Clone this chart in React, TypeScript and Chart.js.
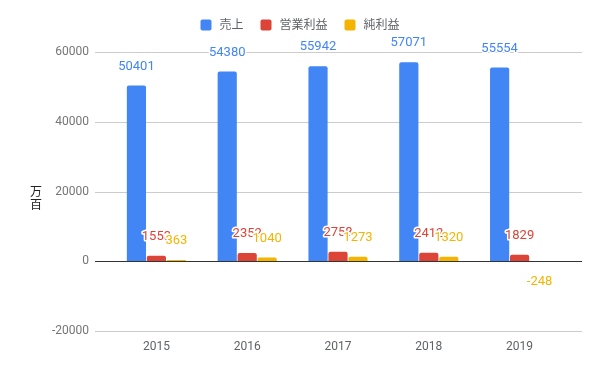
import React, { useEffect, useRef } from "react";
import { Chart, registerables } from "chart.js";

Chart.register(...registerables);

const years = ["2015", "2016", "2017", "2018", "2019"];
const sales = [50401, 54380, 55942, 57071, 55554];
const operatingProfit = [1553, 2352, 2758, 2412, 1829];
const netProfit = [363, 1040, 1273, 1320, -248];
const seriesNames = ["売上", "営業利益", "純利益"];
const seriesColors = ["#4285F4", "#DB4437", "#F4B400"];
const yMin = -20000;
const yMax = 60000;
const yStep = 20000;
const yAxisTitle = ["万", "百"];

const FONT = 'Roboto, "Noto Sans CJK JP", sans-serif';

// Horizontal grid lines, a bit wider than the bar area
const gridPlugin = {
  id: "wideGrid",
  beforeDatasetsDraw(chart: any) {
    const { ctx, chartArea } = chart;
    const y = chart.scales.y;
    ctx.save();
    ctx.strokeStyle = "#cccccc";
    ctx.lineWidth = 1;
    y.ticks.forEach((t: any) => {
      if (t.value === 0) return;
      const py = Math.round(y.getPixelForValue(t.value)) + 0.5;
      ctx.beginPath();
      ctx.moveTo(chartArea.left - 16, py);
      ctx.lineTo(chartArea.right + 17, py);
      ctx.stroke();
    });
    ctx.restore();
  },
  afterDatasetsDraw(chart: any) {
    const { ctx, chartArea } = chart;
    const y = chart.scales.y;
    ctx.save();
    // baseline at zero
    const p0 = Math.round(y.getPixelForValue(0)) + 0.5;
    ctx.strokeStyle = "#333333";
    ctx.lineWidth = 1;
    ctx.beginPath();
    ctx.moveTo(chartArea.left - 16, p0);
    ctx.lineTo(chartArea.right + 17, p0);
    ctx.stroke();

    // value labels with a white halo
    ctx.font = `13px ${FONT}`;
    ctx.textAlign = "center";
    ctx.textBaseline = "middle";
    ctx.lineJoin = "round";
    chart.data.datasets.forEach((ds: any, di: number) => {
      const meta = chart.getDatasetMeta(di);
      meta.data.forEach((bar: any, i: number) => {
        const v = ds.data[i];
        const ly = v >= 0 ? bar.y - 19 : bar.y + 20;
        const text = String(v);
        ctx.strokeStyle = "#ffffff";
        ctx.lineWidth = 3;
        ctx.strokeText(text, bar.x, ly);
        ctx.fillStyle = seriesColors[di];
        ctx.fillText(text, bar.x, ly);
      });
    });
    ctx.restore();
  },
  afterDraw(chart: any) {
    const { ctx } = chart;
    ctx.save();
    // vertical axis title, characters stacked
    ctx.font = `12px ${FONT}`;
    ctx.fillStyle = "#222222";
    ctx.textAlign = "center";
    ctx.textBaseline = "middle";
    yAxisTitle.forEach((ch, i) => {
      ctx.fillText(ch, 36, 193 + i * 13);
    });

    // legend
    ctx.font = `12px ${FONT}`;
    const box = 11;
    const gap = 8;
    const spacing = 17;
    const widths = seriesNames.map((n) => ctx.measureText(n).width);
    const total =
      widths.reduce((a, w) => a + box + gap + w, 0) + spacing * (seriesNames.length - 1);
    let x = 300 - total / 2;
    const cy = 25;
    seriesNames.forEach((n, i) => {
      ctx.fillStyle = seriesColors[i];
      ctx.beginPath();
      (ctx as any).roundRect(x, cy - box / 2, box, box, 2);
      ctx.fill();
      ctx.fillStyle = "#5f6368";
      ctx.textAlign = "left";
      ctx.fillText(n, x + box + gap, cy + 0.5);
      x += box + gap + widths[i] + spacing;
    });
    ctx.restore();
  },
};

export default function App() {
  const ref = useRef<HTMLCanvasElement | null>(null);

  useEffect(() => {
    if (!ref.current) return;
    const chart = new Chart(ref.current, {
      type: "bar",
      data: {
        labels: years,
        datasets: [sales, operatingProfit, netProfit].map((d, i) => ({
          label: seriesNames[i],
          data: d,
          backgroundColor: seriesColors[i],
          borderRadius: 2,
          categoryPercentage: 0.66,
          barPercentage: 0.96,
        })),
      },
      options: {
        animation: false,
        responsive: false,
        devicePixelRatio: 1,
        layout: { padding: { top: 52, left: 41, right: 35, bottom: 10 } },
        plugins: {
          legend: { display: false },
          tooltip: { enabled: false },
        },
        scales: {
          x: {
            grid: { display: false, drawTicks: false },
            border: { display: false },
            ticks: { color: "#5f6368", padding: 9, font: { family: FONT, size: 12 } },
            afterFit(scale: any) {
              scale.height = 30;
            },
          },
          y: {
            min: yMin,
            max: yMax,
            grid: { display: false, drawTicks: false },
            border: { display: false },
            ticks: {
              stepSize: yStep,
              color: "#757575",
              padding: 22,
              font: { family: FONT, size: 12 },
              callback: (v: any) => String(v),
            },
            afterFit(scale: any) {
              scale.width = 70;
            },
          },
        },
      },
      plugins: [gridPlugin],
    });
    return () => chart.destroy();
  }, []);

  return (
    <div style={{ position: "absolute", left: 0, top: 0, width: 600, height: 371, background: "#ffffff" }}>
      <canvas ref={ref} width={600} height={371} />
    </div>
  );
}
